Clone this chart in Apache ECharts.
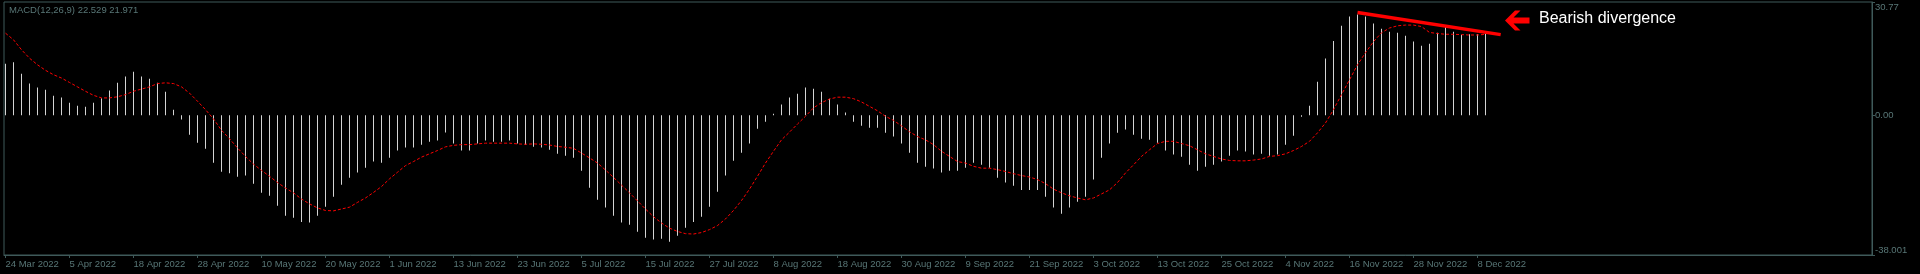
<!DOCTYPE html>
<html><head><meta charset="utf-8">
<script src="https://cdn.jsdelivr.net/npm/echarts@6/dist/echarts.min.js"></script>
<style>html,body{margin:0;padding:0;background:#000;}#c{width:1920px;height:274px;}</style>
</head><body><div id="c"></div>
<script>
// MACD histogram (main line) per daily bar, 24 Mar 2022 .. ~9 Dec 2022
const macd = [
 14.0, 14.4, 11.3, 8.6, 7.5, 6.9, 5.3, 4.8, 3.4, 2.6,
 2.3, 3.4, 4.6, 6.7, 8.8, 10.5, 11.8, 10.5, 9.9, 8.8,
 6.4, 1.5, -1.2, -5.3, -7.5, -9.1, -12.9, -15.4, -15.8, -16.7,
 -16.4, -18.6, -21.1, -21.9, -24.6, -27.3, -27.9, -29.0, -29.2, -27.3,
 -24.9, -22.2, -18.9, -17.0, -15.6, -14.3, -12.6, -12.9, -11.6, -9.6,
 -8.8, -8.8, -8.0, -7.2, -6.9, -4.7, -7.7, -9.6, -9.6, -7.7,
 -6.9, -7.2, -7.2, -6.9, -7.7, -8.0, -8.6, -8.8, -9.4, -10.5,
 -11.0, -11.6, -15.1, -19.7, -23.0, -25.1, -27.3, -29.2, -29.8, -31.7,
 -33.3, -33.8, -33.6, -34.4, -32.8, -30.6, -29.0, -27.6, -24.9, -20.8,
 -16.4, -12.4, -10.2, -7.7, -3.7, -1.8, 0.4, 2.9, 4.8, 5.8,
 7.5, 7.2, 6.4, 4.5, 2.9, 0.7, -1.8, -2.9, -3.4, -3.4,
 -4.8, -5.8, -7.7, -10.2, -12.9, -14.0, -14.5, -15.6, -15.1, -15.1,
 -14.3, -12.9, -13.5, -14.3, -17.0, -18.3, -19.2, -20.3, -20.3, -20.3,
 -22.2, -25.1, -26.8, -25.1, -23.5, -22.2, -17.5, -11.6, -7.7, -4.8,
 -3.9, -5.3, -6.4, -6.7, -7.5, -9.6, -10.7, -11.3, -13.5, -15.1,
 -14.0, -13.5, -12.6, -11.0, -9.6, -9.9, -10.7, -10.5, -11.0, -10.7,
 -8.0, -5.6, -0.4, 2.6, 9.1, 15.4, 20.2, 24.3, 26.8, 27.4,
 26.8, 24.9, 23.5, 22.7, 22.4, 21.6, 20.0, 18.9, 19.4, 22.4,
 24.1, 22.7, 21.9, 22.0, 22.0, 22.529
];
// Signal line (red dotted)
const signal = [
 22.3, 20.5, 17.8, 15.5, 13.7, 12.2, 11.0, 10.1, 8.9, 7.7,
 6.5, 5.4, 4.7, 4.7, 5.0, 5.6, 6.5, 7.1, 7.7, 8.6,
 8.8, 8.6, 7.7, 6.0, 3.8, 1.5, -1.0, -4.1, -6.4, -8.9,
 -11.2, -13.3, -15.0, -16.6, -18.3, -19.8, -21.1, -22.8, -24.1, -25.2,
 -25.9, -26.0, -25.5, -25.0, -23.7, -22.5, -21.0, -19.4, -17.3, -15.5,
 -13.7, -12.6, -11.4, -10.5, -9.6, -8.6, -8.2, -8.0, -8.0, -7.8,
 -7.6, -7.6, -7.6, -7.6, -7.8, -7.9, -7.8, -7.9, -8.1, -8.5,
 -8.7, -9.0, -10.3, -11.6, -13.0, -14.9, -16.9, -19.0, -21.1, -23.3,
 -25.5, -27.6, -29.3, -30.7, -31.6, -32.2, -32.3, -31.9, -31.1, -30.0,
 -28.2, -25.9, -23.2, -20.1, -16.6, -13.0, -9.8, -6.7, -4.6, -2.4,
 -0.3, 2.0, 3.4, 4.4, 4.9, 4.9, 4.5, 3.6, 2.4, 1.2,
 -0.3, -1.4, -2.9, -4.5, -5.8, -6.7, -8.0, -9.8, -11.2, -12.6,
 -13.0, -13.9, -14.4, -14.4, -14.8, -15.3, -15.9, -16.4, -16.8, -17.5,
 -18.6, -20.1, -21.1, -21.9, -22.5, -23.0, -22.5, -21.4, -20.3, -18.3,
 -15.7, -13.5, -11.2, -9.4, -7.7, -7.1, -7.1, -7.7, -8.3, -9.4,
 -10.5, -11.2, -11.9, -12.3, -12.4, -12.4, -12.2, -11.9, -11.2, -11.0,
 -10.5, -9.6, -8.5, -7.1, -4.8, -2.1, 1.5, 5.6, 9.6, 13.7,
 17.0, 20.0, 22.4, 23.7, 24.3, 24.5, 24.5, 24.1, 22.5, 22.2,
 22.0, 22.0, 21.9, 21.8, 21.8, 21.971
];
// Date axis ticks (bar index of each labelled bar) and their labels
const tickIndex = [0, 8, 16, 24, 32, 40, 48, 56, 64, 72, 80, 88, 96, 104, 112, 120, 128, 136, 144, 152, 160, 168, 176, 184];
const tickLabels = ['24 Mar 2022', '5 Apr 2022', '18 Apr 2022', '28 Apr 2022', '10 May 2022', '20 May 2022', '1 Jun 2022',
  '13 Jun 2022', '23 Jun 2022', '5 Jul 2022', '15 Jul 2022', '27 Jul 2022', '8 Aug 2022', '18 Aug 2022', '30 Aug 2022',
  '9 Sep 2022', '21 Sep 2022', '3 Oct 2022', '13 Oct 2022', '25 Oct 2022', '4 Nov 2022', '16 Nov 2022', '28 Nov 2022', '8 Dec 2022'];
// Value axis
const yTickValues = [-38.001, 0, 30.77];
const yTickLabels = ['-38.001', '0.00', '30.77'];
// Bearish divergence trend line (bar index, value)
const trendLine = [[169, 27.9], [186.9, 21.9]];
const annotationText = 'Bearish divergence';

const axisColor = '#3f5a5a';
const textColor = '#587676';
const chart = echarts.init(document.getElementById('c'), null, {renderer: 'canvas'});
const last = macd.length - 1;
chart.setOption({
  animation: false,
  backgroundColor: '#000000',
  title: {
    text: 'MACD(12,26,9) ' + macd[last].toFixed(3) + ' ' + signal[last].toFixed(3),
    left: 9, top: 5, padding: 0,
    textStyle: {color: textColor, fontSize: 9.5, fontWeight: 'normal', fontFamily: 'Liberation Sans'}
  },
  grid: {left: 4, right: 48, top: 2, bottom: 19, show: true, borderColor: axisColor, borderWidth: 1, backgroundColor: '#000'},
  xAxis: {
    type: 'value', min: -0.1875, max: 233.3125,
    splitLine: {show: false},
    axisLine: {show: true, onZero: false, lineStyle: {color: axisColor}},
    axisTick: {show: true, customValues: tickIndex, length: 3, lineStyle: {color: axisColor}},
    axisLabel: {
      customValues: tickIndex, align: 'left', margin: 4,
      color: textColor, fontSize: 9.5, fontFamily: 'Liberation Sans',
      formatter: v => tickLabels[tickIndex.indexOf(v)] || ''
    }
  },
  yAxis: {
    type: 'value', position: 'right', min: yTickValues[0], max: yTickValues[2],
    splitLine: {show: false},
    axisLine: {show: true, onZero: false, lineStyle: {color: axisColor}},
    axisTick: {show: true, customValues: yTickValues, length: 3, lineStyle: {color: axisColor}},
    axisLabel: {
      customValues: yTickValues, margin: 3,
      color: textColor, fontSize: 9.5, fontFamily: 'Liberation Sans',
      verticalAlignMaxLabel: 'top', verticalAlignMinLabel: 'bottom',
      formatter: v => yTickLabels[yTickValues.indexOf(v)]
    }
  },
  series: [
    {
      type: 'bar', barWidth: 1, silent: true,
      itemStyle: {color: '#d4d4d4'},
      data: macd.map((v, i) => [i, v]),
      markLine: {
        silent: true, symbol: ['none', 'none'], label: {show: false},
        lineStyle: {color: '#ff0000', width: 3.5, type: 'solid'},
        data: [[{coord: trendLine[0]}, {coord: trendLine[1]}]]
      }
    },
    {
      type: 'line', showSymbol: false, silent: true,
      lineStyle: {color: '#ff0000', width: 1, type: [3, 2]},
      data: signal.map((v, i) => [i, v])
    }
  ],
  graphic: [
    {
      type: 'polygon', silent: true,
      shape: {points: [[1505, 20.5], [1515, 10.5], [1520.5, 10.5], [1513.5, 17.5], [1529.5, 17.5], [1529.5, 23.5], [1513.5, 23.5], [1520.5, 30.5], [1515, 30.5]]},
      style: {fill: '#ff0000'}
    },
    {
      type: 'text', silent: true, left: 1539, top: 11,
      style: {text: annotationText, fill: '#ffffff', font: '16px "Liberation Sans", Arial, sans-serif'}
    }
  ]
});
</script>
</body></html>
